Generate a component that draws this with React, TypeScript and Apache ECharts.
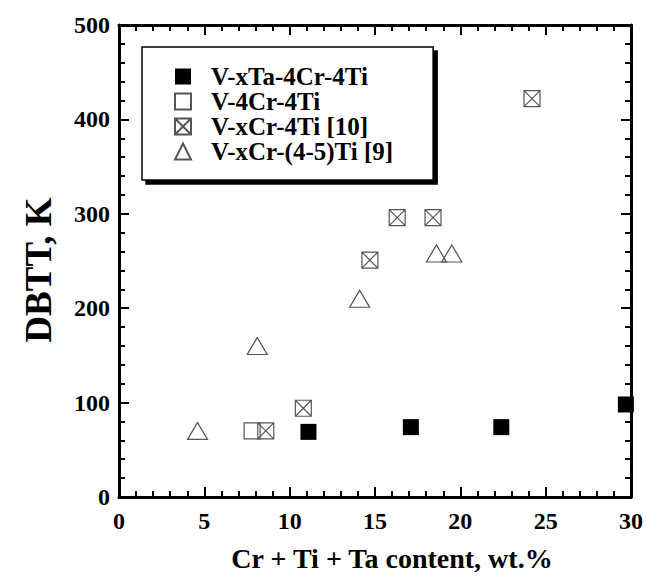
import React, { useEffect, useRef } from "react";
import * as echarts from "echarts";

const seriesNames = [
  "V-xTa-4Cr-4Ti",
  "V-4Cr-4Ti",
  "V-xCr-4Ti [10]",
  "V-xCr-(4-5)Ti [9]",
];
const taSeries: number[][] = [
  [11.1, 69],
  [17.1, 74],
  [22.4, 74],
  [29.7, 98],
];
const baseSeries: number[][] = [[7.8, 70]];
const crSeries: number[][] = [
  [8.6, 70],
  [10.8, 94],
  [14.7, 251],
  [16.3, 296],
  [18.4, 296],
  [24.2, 422],
];
const cr9Series: number[][] = [
  [4.6, 70],
  [8.1, 160],
  [14.1, 210],
  [18.6, 258],
  [19.5, 258],
];
const xTicks = [0, 5, 10, 15, 20, 25, 30];
const yTicks = [0, 100, 200, 300, 400, 500];

const FONT = '"Liberation Serif", "Times New Roman", serif';
const crossPath = "path://M0 0H100V100H0Z M0 0L100 100 M100 0L0 100";

export default function App() {
  const ref = useRef<HTMLDivElement>(null);
  useEffect(() => {
    if (!ref.current) return;
    const chart = echarts.init(ref.current, undefined, { renderer: "svg" });
    const xMin = xTicks[0];
    const xMax = xTicks[xTicks.length - 1];
    const xInt = xTicks[1] - xTicks[0];
    const yMin = yTicks[0];
    const yMax = yTicks[yTicks.length - 1];
    const yInt = yTicks[1] - yTicks[0];
    const axisCommon = {
      axisLine: { show: true, onZero: false, lineStyle: { color: "#000", width: 3 } },
      axisTick: { show: true, inside: true, length: 10, lineStyle: { color: "#000", width: 2 } },
      minorTick: { show: true, splitNumber: 5, length: 6, lineStyle: { color: "#000", width: 2 } },
      splitLine: { show: false },
    };
    const labelStyle = {
      fontFamily: FONT,
      fontWeight: "bold" as const,
      fontSize: 24,
      color: "#000",
    };
    const openStyle = {
      color: "rgba(255,255,255,0)",
      borderColor: "#555",
      borderWidth: 1.2,
      opacity: 1,
    };
    chart.setOption({
      animation: false,
      backgroundColor: "#fff",
      grid: { left: 119, right: 29, top: 25, bottom: 82 },
      xAxis: [
        {
          type: "value",
          position: "bottom",
          min: xMin,
          max: xMax,
          interval: xInt,
          ...axisCommon,
          axisLabel: { ...labelStyle, margin: 12 },
          name: "Cr + Ti + Ta content, wt.%",
          nameLocation: "middle",
          nameGap: 47,
          nameTextStyle: { ...labelStyle, fontSize: 28, padding: [0, 0, 0, 34] },
        },
        {
          type: "value",
          position: "top",
          min: xMin,
          max: xMax,
          interval: xInt,
          ...axisCommon,
          axisLabel: { show: false },
        },
      ],
      yAxis: [
        {
          type: "value",
          position: "left",
          min: yMin,
          max: yMax,
          interval: yInt,
          ...axisCommon,
          axisLabel: { ...labelStyle, margin: 9 },
          name: "DBTT, K",
          nameLocation: "middle",
          nameGap: 62,
          nameTextStyle: { ...labelStyle, fontSize: 37, padding: [0, 18, 0, 0] },
        },
        {
          type: "value",
          position: "right",
          min: yMin,
          max: yMax,
          interval: yInt,
          ...axisCommon,
          axisLabel: { show: false },
        },
      ],
      legend: {
        orient: "vertical",
        left: 142,
        top: 47,
        padding: [17, 40, 16, 32],
        itemGap: 0,
        itemWidth: 16,
        itemHeight: 16,
        backgroundColor: "#fff",
        borderColor: "#000",
        borderWidth: 1.5,
        shadowColor: "#000",
        shadowBlur: 0,
        shadowOffsetX: 4,
        shadowOffsetY: 4,
        textStyle: {
          fontFamily: FONT,
          fontWeight: "bold",
          fontSize: 25,
          color: "#000",
          lineHeight: 25,
          padding: [0, 0, 0, 15],
        },
        data: seriesNames,
      },
      series: [
        {
          name: seriesNames[0],
          type: "scatter",
          symbol: "rect",
          symbolSize: 16,
          itemStyle: { color: "#000", opacity: 1 },
          data: taSeries,
          z: 5,
        },
        {
          name: seriesNames[1],
          type: "scatter",
          symbol: "rect",
          symbolSize: 16,
          itemStyle: openStyle,
          data: baseSeries,
        },
        {
          name: seriesNames[2],
          type: "scatter",
          symbol: crossPath,
          symbolSize: 16,
          itemStyle: openStyle,
          data: crSeries,
        },
        {
          name: seriesNames[3],
          type: "scatter",
          symbol: "triangle",
          symbolSize: [20, 17],
          itemStyle: openStyle,
          data: cr9Series,
        },
      ],
    });
    return () => chart.dispose();
  }, []);
  return (
    <div
      ref={ref}
      style={{ position: "fixed", left: 0, top: 0, width: 660, height: 579 }}
    />
  );
}
